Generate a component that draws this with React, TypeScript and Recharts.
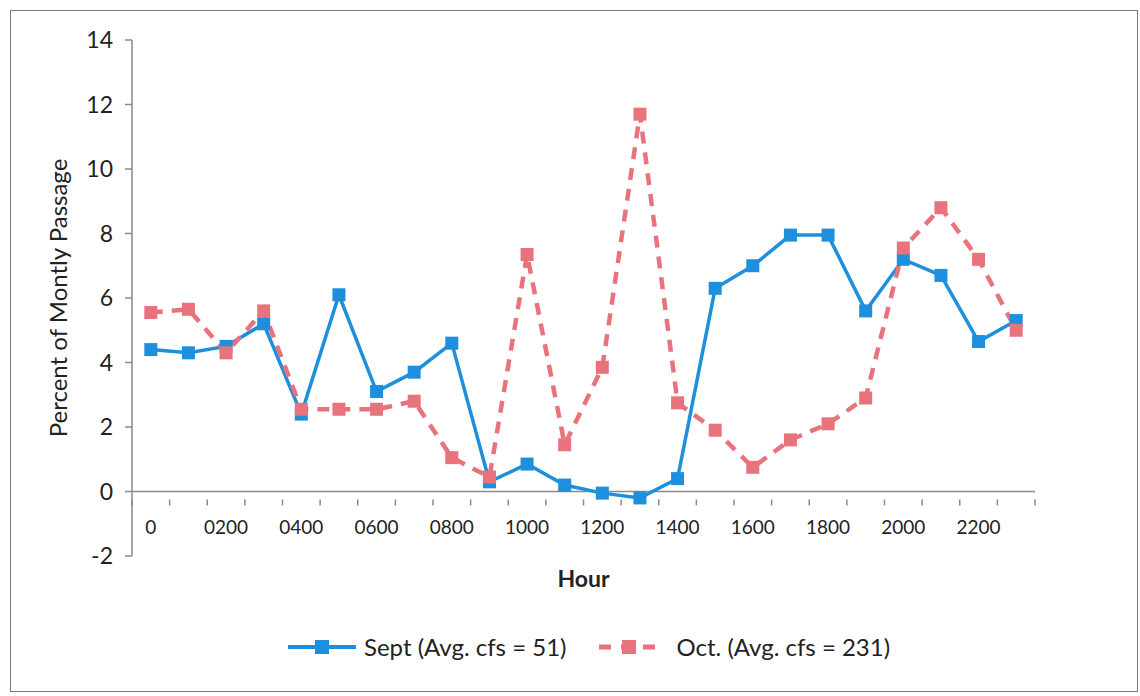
import { LineChart, Line, XAxis, YAxis, ReferenceLine, Legend } from "recharts";

const HOURS = [
  "0", "0100", "0200", "0300", "0400", "0500", "0600", "0700", "0800", "0900", "1000", "1100",
  "1200", "1300", "1400", "1500", "1600", "1700", "1800", "1900", "2000", "2100", "2200", "2300",
];
const SEPT = [
  4.4, 4.3, 4.5, 5.2, 2.4, 6.1, 3.1, 3.7, 4.6, 0.3, 0.85, 0.2,
  -0.05, -0.2, 0.4, 6.3, 7.0, 7.95, 7.95, 5.6, 7.2, 6.7, 4.65, 5.3,
];
const OCT = [
  5.55, 5.65, 4.3, 5.6, 2.55, 2.55, 2.55, 2.8, 1.05, 0.45, 7.35, 1.45,
  3.85, 11.7, 2.75, 1.9, 0.75, 1.6, 2.1, 2.9, 7.55, 8.8, 7.2, 5.0,
];
const Y_TICKS = [-2, 0, 2, 4, 6, 8, 10, 12, 14];

const SEPT_NAME = "Sept (Avg. cfs = 51)";
const OCT_NAME = "Oct. (Avg. cfs = 231)";
const BLUE = "#1d8fdc";
const RED = "#e8737d";
const AXIS = "#8a8a8a";
const TEXT = "#222";
const FONT = "Lato, 'Open Sans', sans-serif";

const data = HOURS.map((h, i) => ({ hour: h, sept: SEPT[i], oct: OCT[i] }));

// plot area geometry
const W = 1140;
const H = 696;
const M = { top: 40, right: 105, left: 72, bottom: 100 };
const YAXIS_W = 60;
const XAXIS_H = 40;
const PLOT_W = W - M.left - YAXIS_W - M.right;
const PLOT_H = H - M.top - M.bottom - XAXIS_H;
const STEP = PLOT_W / HOURS.length;
// x axis crosses at y = 0, which sits 2 units above the bottom of a 16-unit range
const ZERO_SHIFT = (PLOT_H * 2) / 16;

const squareDot = (color: string) => (props: any) => {
  const { cx, cy, index } = props;
  if (cx == null || cy == null) return <g key={`n-${index}`} />;
  return <rect key={`d-${index}`} x={cx - 6.5} y={cy - 6.5} width={13} height={13} fill={color} />;
};

const HourTick = (props: any) => {
  const { x, y, payload, index } = props;
  const y0 = y - ZERO_SHIFT;
  const show = index % 2 === 0;
  return (
    <g>
      <line x1={x - STEP / 2} x2={x - STEP / 2} y1={y0} y2={y0 + 6} stroke={AXIS} strokeWidth={1.5} />
      {index === HOURS.length - 1 && (
        <line x1={x + STEP / 2} x2={x + STEP / 2} y1={y0} y2={y0 + 6} stroke={AXIS} strokeWidth={1.5} />
      )}
      {show && (
        <text x={x} y={y0 + 34} textAnchor="middle" fontSize={19} fill={TEXT} fontFamily={FONT}>
          {payload.value}
        </text>
      )}
    </g>
  );
};

const LegendContent = () => (
  <div
    style={{
      display: "flex",
      alignItems: "center",
      paddingLeft: 286,
      fontFamily: FONT,
      fontSize: 24,
      color: TEXT,
      whiteSpace: "nowrap",
    }}
  >
    <svg width={72} height={16}>
      <line x1={2} x2={70} y1={8} y2={8} stroke={BLUE} strokeWidth={4} />
      <rect x={29} y={1} width={14} height={14} fill={BLUE} />
    </svg>
    <span style={{ marginLeft: 6 }}>{SEPT_NAME}</span>
    <svg width={63} height={16} style={{ marginLeft: 31 }}>
      <line x1={2} x2={61} y1={8} y2={8} stroke={RED} strokeWidth={5} strokeDasharray="12 10" />
      <rect x={25} y={1} width={14} height={14} fill={RED} />
    </svg>
    <span style={{ marginLeft: 16 }}>{OCT_NAME}</span>
  </div>
);

export default function App() {
  return (
    <div style={{ position: "absolute", left: 0, top: 0, width: W, height: H, background: "#fff" }}>
      <div
        style={{
          position: "absolute",
          left: 10,
          top: 10,
          width: 1126,
          height: 680,
          border: "1.5px solid #7a7a7a",
        }}
      />
      <div style={{ position: "absolute", left: 0, top: 0 }}>
        <LineChart width={W} height={H} data={data} margin={M}>
          <XAxis
            dataKey="hour"
            interval={0}
            height={XAXIS_H}
            axisLine={false}
            tickLine={false}
            tick={<HourTick />}
            padding={{ left: STEP / 2, right: STEP / 2 }}
            label={{
              value: "Hour",
              position: "insideBottom",
              offset: 9,
              fontSize: 23,
              fontWeight: 700,
              fill: TEXT,
              fontFamily: FONT,
            }}
          />
          <YAxis
            width={YAXIS_W}
            domain={[-2, 14]}
            ticks={Y_TICKS}
            interval={0}
            axisLine={{ stroke: AXIS, strokeWidth: 1.5 }}
            tickLine={{ stroke: AXIS, strokeWidth: 1.5 }}
            tickSize={7}
            tickMargin={12}
            tick={{ fontSize: 23, fill: TEXT, fontFamily: FONT }}
            label={{
              value: "Percent of Montly Passage",
              angle: -90,
              position: "center",
              dx: -44,
              fontSize: 24,
              fill: TEXT,
              fontFamily: FONT,
            }}
          />
          <ReferenceLine y={0} stroke={AXIS} strokeWidth={1.5} />
          <Line
            dataKey="sept"
            name={SEPT_NAME}
            stroke={BLUE}
            strokeWidth={3.5}
            dot={squareDot(BLUE)}
            activeDot={false}
            isAnimationActive={false}
          />
          <Line
            dataKey="oct"
            name={OCT_NAME}
            stroke={RED}
            strokeWidth={4.5}
            strokeDasharray="12 9"
            dot={squareDot(RED)}
            activeDot={false}
            isAnimationActive={false}
          />
          <Legend
            content={<LegendContent />}
            wrapperStyle={{ top: 632, left: 0, width: W, height: 0, overflow: "visible" }}
          />
        </LineChart>
      </div>
    </div>
  );
}
